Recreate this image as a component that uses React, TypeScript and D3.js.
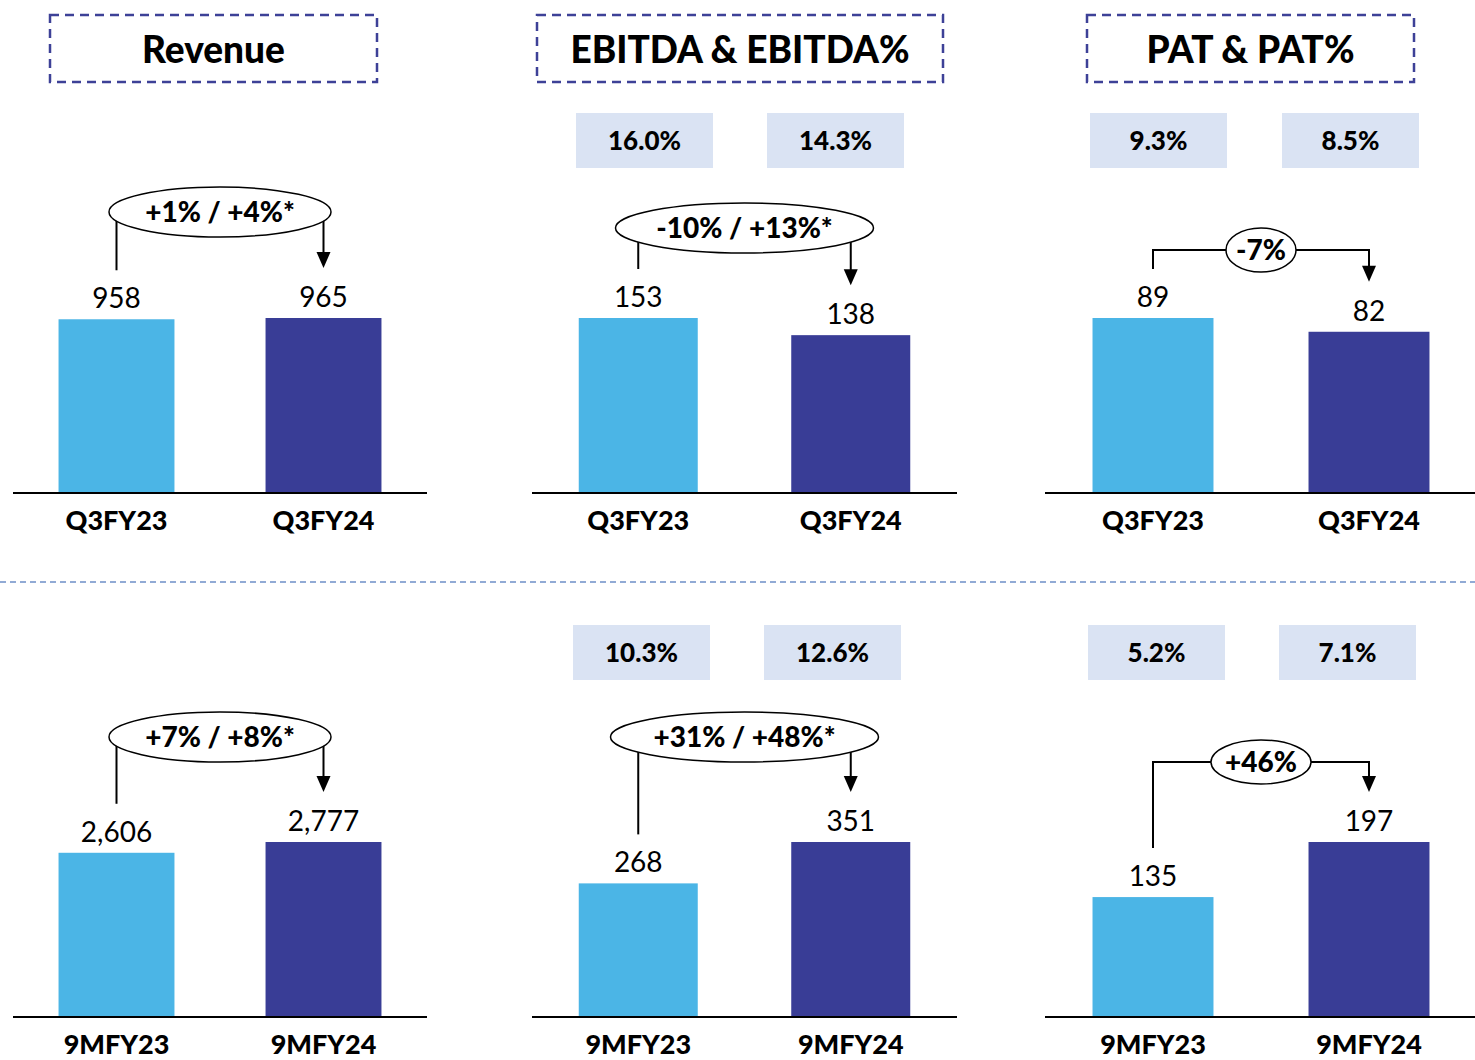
import React from "react";
import * as d3 from "d3";

const panelTitles = ["Revenue", "EBITDA & EBITDA%", "PAT & PAT%"];
const quarterPeriods = ["Q3FY23", "Q3FY24"];
const ninePeriods = ["9MFY23", "9MFY24"];

const revenueQ3 = [958, 965];
const revenue9M = [2606, 2777];
const ebitdaQ3 = [153, 138];
const ebitda9M = [268, 351];
const patQ3 = [89, 82];
const pat9M = [135, 197];

const ebitdaMarginQ3 = ["16.0%", "14.3%"];
const ebitdaMargin9M = ["10.3%", "12.6%"];
const patMarginQ3 = ["9.3%", "8.5%"];
const patMargin9M = ["5.2%", "7.1%"];

const growthQ3 = ["+1% / +4%*", "-10% / +13%*", "-7%"];
const growth9M = ["+7% / +8%*", "+31% / +48%*", "+46%"];

const LIGHT = "#4BB5E6";
const DARK = "#393D96";
const BOXFILL = "#DAE3F3";
const FONT = "Lato, 'Open Sans', sans-serif";

// layout (positions only)
const panelRanges: [number, number][] = [
  [13, 427],
  [532, 957],
  [1045, 1477],
];
const rowBaselines = [493, 1017];
const maxBarH = 175;
// annotation y (ellipse / bracket centre) per row per panel
const annY = [
  [212, 228, 250],
  [737, 737, 762],
];
const ellipseRx = [
  [111, 129, 35],
  [111, 134, 50],
];
const bracketStyle = [false, false, true];
const boxCentersTop: (number[] | null)[] = [null, [644.5, 835.5], [1158.5, 1350.5]];
const boxCentersBottom: (number[] | null)[] = [null, [641.5, 832.5], [1156.5, 1347.5]];
const boxYTop = 113;
const boxYBottom = 625;

function Arrow({ x, y1, y2 }: { x: number; y1: number; y2: number }) {
  const ah = 16;
  const aw = 7;
  return (
    <g>
      <line x1={x} y1={y1} x2={x} y2={y2 - ah + 1} stroke="#000" strokeWidth={2} />
      <polygon points={`${x - aw},${y2 - ah} ${x + aw},${y2 - ah} ${x},${y2}`} fill="#000" />
    </g>
  );
}

function Panel({
  pi,
  row,
  cats,
  values,
  growth,
  margins,
  boxCenters,
  boxY,
}: {
  pi: number;
  row: number;
  cats: string[];
  values: number[];
  growth: string;
  margins: string[] | null;
  boxCenters: number[] | null;
  boxY: number;
}) {
  const base = rowBaselines[row];
  const x = d3
    .scaleBand<string>()
    .domain(cats)
    .range(panelRanges[pi])
    .paddingInner(0.44)
    .paddingOuter(0.22);
  const maxV = d3.max(values) as number;
  const y = d3.scaleLinear().domain([0, maxV]).range([base, base - maxBarH]);
  const cx = cats.map((c) => (x(c) as number) + x.bandwidth() / 2);
  const tops = values.map((v) => y(v));
  const ay = annY[row][pi];
  const midX = (cx[0] + cx[1]) / 2;
  const rx = ellipseRx[row][pi];
  const bracket = bracketStyle[pi];
  return (
    <g>
      {values.map((v, i) => (
        <rect
          key={i}
          x={x(cats[i])}
          y={y(v)}
          width={x.bandwidth()}
          height={base - y(v)}
          fill={i === 0 ? LIGHT : DARK}
        />
      ))}
      <line x1={panelRanges[pi][0]} x2={panelRanges[pi][1]} y1={base} y2={base} stroke="#000" strokeWidth={2} />
      {cats.map((c, i) => (
        <text
          key={c}
          x={cx[i]}
          y={base + 37}
          textAnchor="middle"
          fontFamily={FONT}
          fontWeight={900}
          fontSize={27}
          fill="#000"
        >
          {c}
        </text>
      ))}
      {values.map((v, i) => (
        <text
          key={"v" + i}
          x={cx[i]}
          y={tops[i] - 11}
          textAnchor="middle"
          fontFamily={FONT}
          fontSize={28}
          fill="#000"
        >
          {d3.format(",")(v)}
        </text>
      ))}
      {bracket && (
        <line x1={cx[0] - 1} x2={cx[1]} y1={ay} y2={ay} stroke="#000" strokeWidth={2} />
      )}
      <line x1={cx[0]} x2={cx[0]} y1={ay - 1} y2={tops[0] - 49} stroke="#000" strokeWidth={2} />
      <Arrow x={cx[1]} y1={ay - 1} y2={tops[1] - 50} />
      <ellipse cx={midX} cy={ay} rx={rx} ry={bracket ? 22 : 25} fill="#fff" stroke="#000" strokeWidth={1.5} />
      <text
        x={midX}
        y={ay + 10}
        textAnchor="middle"
        fontFamily={FONT}
        fontWeight={900}
        fontSize={28}
        fill="#000"
      >
        {growth}
      </text>
      {margins &&
        boxCenters &&
        margins.map((m, i) => (
          <g key={"m" + i}>
            <rect x={boxCenters[i] - 68.5} y={boxY} width={137} height={55} fill={BOXFILL} />
            <text
              x={boxCenters[i]}
              y={boxY + 37}
              textAnchor="middle"
              fontFamily={FONT}
              fontWeight={900}
              fontSize={26}
              fill="#000"
            >
              {m}
            </text>
          </g>
        ))}
    </g>
  );
}

const titleBoxes: [number, number][] = [
  [50, 377],
  [537, 943],
  [1087, 1414],
];

export default function App() {
  const q3Vals = [revenueQ3, ebitdaQ3, patQ3];
  const nmVals = [revenue9M, ebitda9M, pat9M];
  const q3Margins = [null, ebitdaMarginQ3, patMarginQ3];
  const nmMargins = [null, ebitdaMargin9M, patMargin9M];
  return (
    <svg
      width={1475}
      height={1060}
      style={{ position: "absolute", left: 0, top: 0, display: "block" }}
    >
      <rect width={1475} height={1060} fill="#fff" />
      {panelTitles.map((t, i) => (
        <g key={t}>
          <rect
            x={titleBoxes[i][0]}
            y={15}
            width={titleBoxes[i][1] - titleBoxes[i][0]}
            height={67}
            fill="none"
            stroke="#3D4197"
            strokeWidth={2.5}
            strokeDasharray="9,6"
          />
          <text
            x={(titleBoxes[i][0] + titleBoxes[i][1]) / 2}
            y={63}
            textAnchor="middle"
            fontFamily={FONT}
            fontWeight={900}
            fontSize={37}
            fill="#000"
          >
            {t}
          </text>
        </g>
      ))}
      <line x1={0} x2={1475} y1={582} y2={582} stroke="#6E8FC8" strokeWidth={1.5} strokeDasharray="6,4" />
      {[0, 1, 2].map((pi) => (
        <Panel
          key={"q" + pi}
          pi={pi}
          row={0}
          cats={quarterPeriods}
          values={q3Vals[pi]}
          growth={growthQ3[pi]}
          margins={q3Margins[pi]}
          boxCenters={boxCentersTop[pi]}
          boxY={boxYTop}
        />
      ))}
      {[0, 1, 2].map((pi) => (
        <Panel
          key={"n" + pi}
          pi={pi}
          row={1}
          cats={ninePeriods}
          values={nmVals[pi]}
          growth={growth9M[pi]}
          margins={nmMargins[pi]}
          boxCenters={boxCentersBottom[pi]}
          boxY={boxYBottom}
        />
      ))}
    </svg>
  );
}
